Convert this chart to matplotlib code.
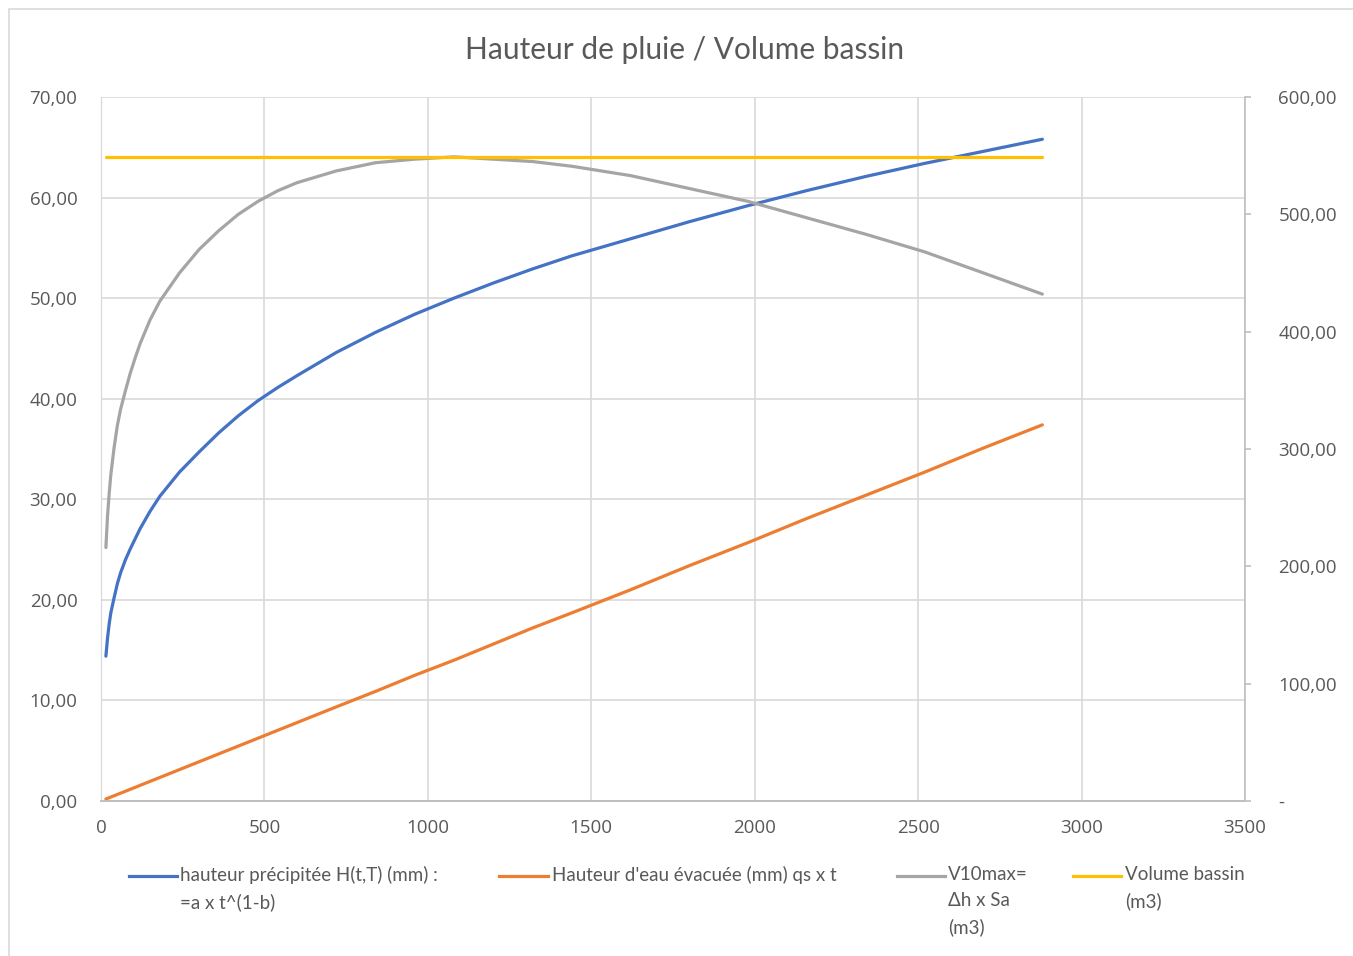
import matplotlib
matplotlib.use('Agg')
import matplotlib.pyplot as plt
from matplotlib.lines import Line2D
from matplotlib.patches import Rectangle
from matplotlib.ticker import FuncFormatter

# durée t (min)
t = [15, 20, 25, 30, 40, 50, 60, 75, 90, 105, 120, 150, 180, 210, 240, 300,
     360, 420, 480, 540, 600, 720, 840, 960, 1080, 1200, 1320, 1440, 1620,
     1800, 1980, 2160, 2340, 2520, 2700, 2880]
# hauteur précipitée (mm) - axe gauche
h_precip = [14.4, 16.2, 17.6, 18.7, 20.2, 21.6, 22.7, 24.0, 25.1, 26.1, 27.1,
            28.8, 30.3, 31.5, 32.7, 34.7, 36.6, 38.3, 39.8, 41.1, 42.3, 44.6,
            46.6, 48.4, 50.0, 51.5, 52.9, 54.2, 55.9, 57.6, 59.2, 60.7, 62.1,
            63.4, 64.6, 65.8]
# hauteur d'eau évacuée (mm) - axe gauche
h_evac = [0.2, 0.26, 0.33, 0.39, 0.52, 0.65, 0.78, 0.97, 1.17, 1.36, 1.56,
          1.95, 2.34, 2.73, 3.12, 3.9, 4.68, 5.46, 6.24, 7.02, 7.8, 9.36,
          10.9, 12.5, 14.0, 15.6, 17.2, 18.7, 21.0, 23.4, 25.7, 28.1, 30.4,
          32.7, 35.1, 37.4]
# V10max (m3) - axe droit
v10max = [216, 243, 262, 278, 301, 320, 334, 350, 365, 378, 390, 410, 426,
          438, 450, 470, 486, 500, 511, 520, 527, 537, 544, 547, 549, 547,
          545, 541, 533, 522, 511, 497, 483, 468, 450, 432]
# volume bassin (m3) - axe droit
t_bassin = [15, 2880]
v_bassin = [549, 549]

labels = ["hauteur précipitée H(t,T) (mm) :\n=a x t^(1-b)",
          "Hauteur d'eau évacuée (mm) qs x t",
          "V10max=\nΔh x Sa\n(m3)",
          "Volume bassin\n(m3)"]
colors = ['#4472C4', '#ED7D31', '#A5A5A5', '#FFC000']

txt = '#595959'
W, H = 1353, 956
fig = plt.figure(figsize=(W / 100, H / 100), dpi=100)
ax = fig.add_axes([101 / W, 1 - 801 / H, (1245 - 101) / W, (801 - 97) / H])
ax2 = ax.twinx()

lw = 2.3
ax.plot(t, h_precip, color=colors[0], lw=lw, solid_capstyle='round', solid_joinstyle='round')
ax.plot(t, h_evac, color=colors[1], lw=lw, solid_capstyle='round')
ax2.plot(t, v10max, color=colors[2], lw=lw, solid_capstyle='round', solid_joinstyle='round')
ax2.plot(t_bassin, v_bassin, color=colors[3], lw=lw, solid_capstyle='round')

ax.set_xlim(0, 3500)
ax.set_ylim(0, 70)
ax2.set_ylim(0, 600)
ax.set_xticks(range(0, 3501, 500))
ax.set_yticks(range(0, 71, 10))
ax2.set_yticks(range(0, 601, 100))
ax.yaxis.set_major_formatter(FuncFormatter(lambda v, p: f'{v:.2f}'.replace('.', ',')))
ax2.yaxis.set_major_formatter(FuncFormatter(
    lambda v, p: '-' if v == 0 else f'{v:.2f}'.replace('.', ',')))

ax.grid(True, color='#d9d9d9', lw=1.2)
ax.set_axisbelow(True)
for a in (ax, ax2):
    a.spines['top'].set_visible(False)
    a.spines['left'].set_color('#d9d9d9')
    a.spines['right'].set_visible(False)
    a.spines['bottom'].set_color('#bfbfbf')
    a.spines['bottom'].set_linewidth(1.2)
ax2.spines['right'].set_visible(True)
ax2.spines['right'].set_color('#bfbfbf')
ax2.spines['right'].set_linewidth(1.2)

tfont = {'family': 'Open Sans', 'size': 13.5}
ax.tick_params(axis='x', length=0, pad=13, labelcolor=txt)
ax.tick_params(axis='y', length=0, pad=17, labelcolor=txt)
ax2.tick_params(axis='y', length=4, width=1.2, color='#bfbfbf', pad=20, labelcolor=txt)
for lab in ax.get_xticklabels() + ax.get_yticklabels() + ax2.get_yticklabels():
    lab.set_fontproperties(tfont)

fig.text(685 / W, 1 - 50 / H, 'Hauteur de pluie / Volume bassin', ha='center', va='center',
         color=txt, family='Lato', fontsize=21.5)

# légende manuelle sous le graphique
leg_x = [(129, 177, 180), (499, 548, 552), (897, 945, 948), (1073, 1121, 1125)]
ly = 1 - 876 / H
for (x0, x1, xt), lab, c in zip(leg_x, labels, colors):
    fig.add_artist(Line2D([x0 / W, x1 / W], [ly, ly], color=c, lw=lw))
    fig.text(xt / W, 1 - 866 / H, lab, ha='left', va='top', color=txt,
             family='Lato', fontsize=13.5, linespacing=1.62)

fig.add_artist(Rectangle((9 / W, -0.1), 1.2, 1 - 9 / H + 0.1, transform=fig.transFigure,
                         fill=False, ec='#d9d9d9', lw=1.2))

fig.savefig('out.png', dpi=100)
